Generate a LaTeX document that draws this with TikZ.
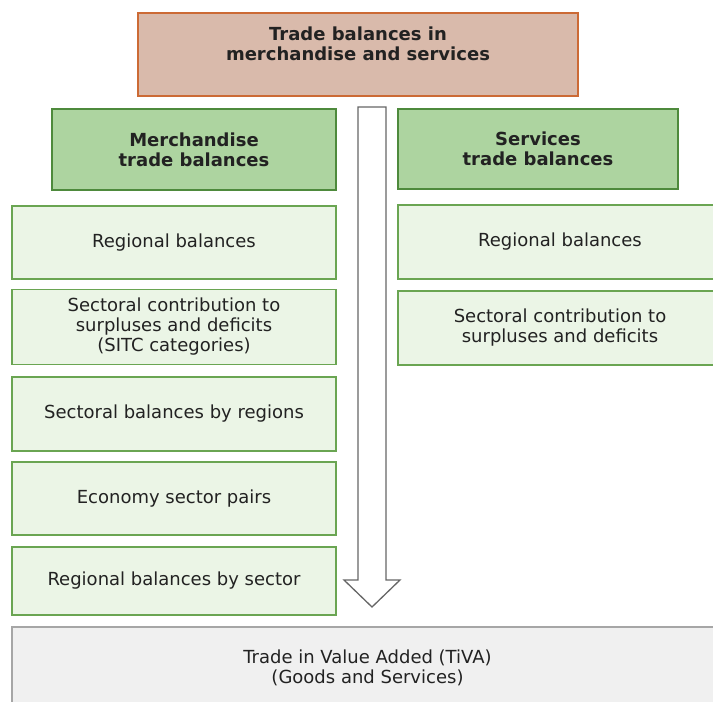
\documentclass[tikz,border=0pt]{standalone}
\usepackage{fontspec}
\setmainfont{DejaVu Sans}
\definecolor{txt}{HTML}{222222}
\definecolor{topfill}{HTML}{D9BAAB}
\definecolor{topline}{HTML}{CC6A35}
\definecolor{hdrfill}{HTML}{ADD4A0}
\definecolor{hdrline}{HTML}{4E8A3C}
\definecolor{itemfill}{HTML}{EBF5E6}
\definecolor{itemline}{HTML}{6AA552}
\definecolor{tivafill}{HTML}{F0F0F0}
\definecolor{tivaline}{HTML}{A6A6A6}
\definecolor{arrline}{HTML}{666666}
\tikzset{
  base/.style={draw, line width=1.4pt, inner sep=0pt, align=center, text=txt,
    font=\fontsize{18}{20}\selectfont},
  topbox/.style={base, fill=topfill, draw=topline},
  hdr/.style={base, fill=hdrfill, draw=hdrline, font=\bfseries\fontsize{18}{20}\selectfont},
  item/.style={base, fill=itemfill, draw=itemline},
  tiva/.style={base, fill=tivafill, draw=tivaline},
  bigarrow/.style={draw=arrline, line width=1.3pt, fill=white, line join=miter},
}
\begin{document}
\begin{tikzpicture}[x=1pt,y=-1pt]
\useasboundingbox (0,0) rectangle (713,702);
\clip (0,0) rectangle (713,702);
% top
\node[topbox, minimum width=440pt, minimum height=83pt] (top) at (358,54.5) {};
\node[inner sep=0pt, align=center, text=txt, font=\bfseries\fontsize{18}{20}\selectfont] (toptext) at (358,44) {Trade balances in\\merchandise and services};
% headers
\node[hdr, minimum width=284pt, minimum height=81pt] (merch) at (194,149.5) {Merchandise\\trade balances};
\node[hdr, minimum width=280pt, minimum height=80pt] (serv) at (538,149) {Services\\trade balances};
% left column
\node[item, minimum width=324pt, minimum height=73pt] (l1) at (174,242.5) {Regional balances};
\node[item, minimum width=324pt, minimum height=75pt] (l2) at (174,327) {Sectoral contribution to\\surpluses and deficits\\(SITC categories)};
\node[item, minimum width=324pt, minimum height=74pt] (l3) at (174,414) {Sectoral balances by regions};
\node[item, minimum width=324pt, minimum height=73pt] (l4) at (174,498.5) {Economy sector pairs};
\node[item, minimum width=324pt, minimum height=68pt] (l5) at (174,581) {Regional balances by sector};
% right column
\node[item, minimum width=324pt, minimum height=74pt] (r1) at (560,242) {Regional balances};
\node[item, minimum width=324pt, minimum height=74pt] (r2) at (560,328) {Sectoral contribution to\\surpluses and deficits};
% bottom
\node[tiva, minimum width=711pt, minimum height=82pt] (tiva) at (367.5,668) {Trade in Value Added (TiVA)\\(Goods and Services)};
% big arrow
\draw[bigarrow] (358,107) -- (386,107) -- (386,580) -- (400,580) -- (372,607) -- (344,580) -- (358,580) -- cycle;
\end{tikzpicture}
\end{document}
